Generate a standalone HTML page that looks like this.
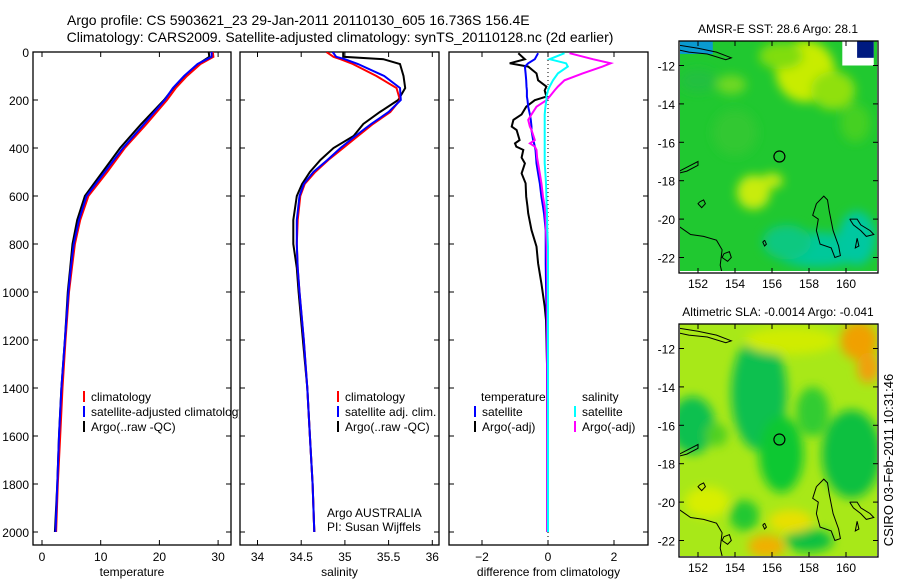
<!DOCTYPE html>
<html><head><meta charset="utf-8">
<style>
html,body{margin:0;padding:0;background:#fff;}
svg{display:block;font-family:"Liberation Sans",sans-serif;}
text{fill:#000;}
</style></head>
<body>
<svg id="fig" width="900" height="580" viewBox="0 0 900 580">
<defs>
<clipPath id="c1"><rect x="33" y="52" width="198" height="493"/></clipPath>
<clipPath id="c1leg"><rect x="33" y="52" width="206" height="493"/></clipPath>
<clipPath id="c2"><rect x="240" y="52" width="199" height="493"/></clipPath>
<clipPath id="c3"><rect x="449" y="52" width="199" height="493"/></clipPath>
<clipPath id="m1"><rect x="680" y="41" width="197" height="230"/></clipPath>
<clipPath id="m2"><rect x="680" y="324" width="197" height="232"/></clipPath>
<filter id="bl" x="-50%" y="-50%" width="200%" height="200%"><feGaussianBlur stdDeviation="5"/></filter>
</defs>
<text x="67" y="25" font-size="14">Argo profile: CS 5903621_23 29-Jan-2011 20110130_605 16.736S 156.4E</text>
<text x="340" y="42" font-size="14" text-anchor="middle">Climatology: CARS2009. Satellite-adjusted climatology: synTS_20110128.nc (2d earlier)</text>
<g id="plots"></g>
<g id="maps"></g>
<text transform="translate(893,460) rotate(-90)" font-size="13" text-anchor="middle">CSIRO 03-Feb-2011 10:31:46</text>
</svg>
<script>
// ---- data ----
const depths = [0,20,50,100,150,200,300,400,500,600,700,800,900,1000,1200,1400,1600,1800,2000];
const tempClim = [29.1,29.2,27.0,24.7,22.8,21.3,17.8,14.1,11.1,7.9,6.5,5.6,5.1,4.6,4.0,3.5,3.1,2.7,2.4];
const tempSat  = [28.9,28.9,26.5,24.2,22.3,20.9,17.4,13.8,10.7,7.6,6.3,5.4,4.9,4.5,3.9,3.3,2.9,2.6,2.3];
const tempArgo = [28.4,28.5,26.6,24.3,22.4,20.8,16.9,13.3,10.3,7.3,6.0,5.2,4.8,4.4,3.9,3.3,2.9,2.6,2.2];
const salDepths = [0,20,30,50,100,150,200,250,300,350,400,450,500,550,600,700,800,900,1000,1200,1400,1600,1800,2000];
const salClim = [34.79,34.87,34.95,35.09,35.36,35.59,35.63,35.52,35.32,35.15,34.98,34.81,34.66,34.54,34.49,34.46,34.45,34.46,34.48,34.53,34.57,34.60,34.63,34.65];
const salSat  = [34.86,34.90,35.00,35.15,35.45,35.63,35.64,35.50,35.30,35.12,34.95,34.80,34.64,34.53,34.48,34.45,34.45,34.46,34.48,34.53,34.57,34.60,34.63,34.65];
const salArgo = [34.98,34.98,35.44,35.63,35.67,35.69,35.61,35.40,35.21,35.10,34.87,34.72,34.60,34.51,34.45,34.41,34.41,34.45,34.47,34.52,34.57,34.60,34.63,34.65];
const diffDepths = [5,30,47,61,89,118,144,160,186,201,228,260,283,311,325,367,381,394,408,440,464,506,547,603,644,672,742,811,881,964,1061,1117,1300,1600,2000];
const dTempSat  = [-0.3,-0.4,-0.6,-0.7,-0.68,-0.66,-0.65,-0.64,-0.64,-0.62,-0.6,-0.55,-0.52,-0.5,-0.5,-0.45,-0.42,-0.4,-0.38,-0.36,-0.35,-0.3,-0.25,-0.2,-0.15,-0.12,-0.07,-0.07,-0.07,-0.06,-0.05,-0.04,-0.03,-0.02,-0.02];
const dTempArgo = [-0.9,-0.7,-1.16,-0.6,-0.35,-0.3,-0.05,-0.1,-0.05,-0.4,-0.66,-0.8,-1.05,-1.1,-0.95,-0.86,-1.0,-0.96,-0.75,-0.8,-0.7,-0.8,-0.68,-0.66,-0.62,-0.6,-0.5,-0.35,-0.3,-0.2,-0.1,-0.06,-0.03,-0.02,-0.02];
const dSalSat   = [0.5,0.05,0.55,0.6,0.3,0.15,0.05,0.0,-0.05,-0.05,-0.08,-0.1,-0.1,-0.1,-0.1,-0.1,-0.1,-0.1,-0.1,-0.1,-0.1,-0.08,-0.06,-0.05,-0.04,-0.03,-0.02,0.0,0.0,0.0,0.0,0.0,0.0,0.0,0.0];
const dSalArgo  = [0.65,1.36,1.9,1.65,1.05,0.5,0.3,0.2,0.05,-0.05,-0.35,-0.5,-0.6,-0.55,-0.5,-0.4,-0.55,-0.4,-0.35,-0.33,-0.3,-0.25,-0.2,-0.15,-0.1,-0.08,-0.06,-0.04,-0.03,-0.02,-0.02,-0.02,-0.02,-0.02,-0.02];
const depthTicks = [0,200,400,600,800,1000,1200,1400,1600,1800,2000];
const tempTicks = [0,10,20,30];
const salTicks = [34,34.5,35,35.5,36];
const diffTicks = [-2,0,2];
const latTicks = [-12,-14,-16,-18,-20,-22];
const lonTicks = [152,154,156,158,160];

const NS='http://www.w3.org/2000/svg';
function mk(tag, attrs, parent){const e=document.createElementNS(NS,tag);for(const k in attrs)e.setAttribute(k,attrs[k]);parent.appendChild(e);return e;}
const yD = d => 52 + d*0.24;
const xT = t => 42 + t*5.87;
const xS = s => 257.5 + (s-34)*87.4;
const xDf = v => 548 + v*33;
const plots=document.getElementById('plots');

function panel(name,x0,x1,xfn,ticks,fmt,xlabel,leftLabels,clip){
  const g=mk('g',{},plots);
  
  
  const fr=mk('rect',{x:x0,y:52,width:x1-x0,height:493,fill:'#fff',stroke:'#000','stroke-width':1.3},g);
  
  
  depthTicks.forEach(d=>{
    mk('line',{x1:x0,x2:x0+5,y1:yD(d),y2:yD(d),stroke:'#000'},g);
    mk('line',{x1:x1,x2:x1-5,y1:yD(d),y2:yD(d),stroke:'#000'},g);
    if(leftLabels){const t=mk('text',{x:x0-4,y:yD(d)+5,'font-size':12,'text-anchor':'end'},g);t.textContent=d;
      
      }
  });
  ticks.forEach(v=>{
    const x=xfn(v);
    mk('line',{x1:x,x2:x,y1:545,y2:540,stroke:'#000'},g);
    mk('line',{x1:x,x2:x,y1:52,y2:57,stroke:'#000'},g);
    const t=mk('text',{x:x,y:561,'font-size':12,'text-anchor':'middle'},g);t.textContent=fmt(v);
    
    
  });
  const xl=mk('text',{x:(x0+x1)/2,y:576,'font-size':12,'text-anchor':'middle'},g);xl.textContent=xlabel;
  
  
  return g;
}
function series(g,name,xs,ds,xfn,color,clip){
  const pts=xs.map((v,i)=>xfn(v).toFixed(1)+','+yD(ds[i]).toFixed(1)).join(' ');
  const p=mk('polyline',{points:pts,fill:'none',stroke:color,'stroke-width':2,'clip-path':'url(#'+clip+')'},g);
  
  
}
function legend(g,x,y,items,clip){
  const lg=mk('g',{'clip-path':clip?'url(#'+clip+')':''},g);
  
  
  items.forEach((it,i)=>{
    const yy=y+i*15;
    if(it[1]) mk('line',{x1:x,x2:x,y1:yy-6,y2:yy+5,stroke:it[1],'stroke-width':2},lg);
    const t=mk('text',{x:x+(it[2]||7),y:yy+4,'font-size':12},lg);t.textContent=it[0];
    
    
  });
}
// Panel 1 temperature
let g1=panel('temperature',33,231,xT,tempTicks,v=>v,'temperature',true);
series(g1,'temp-argo-line',tempArgo,depths,xT,'#000','c1');
series(g1,'temp-climatology-line',tempClim,depths,xT,'#f00','c1');
series(g1,'temp-satellite-line',tempSat,depths,xT,'#00f','c1');
legend(g1,84,397,[['climatology','#f00'],['satellite-adjusted climatology','#00f'],['Argo(..raw -QC)','#000']],'c1leg');
// Panel 2 salinity
let g2=panel('salinity',240,439,xS,salTicks,v=>v,'salinity',false);
series(g2,'sal-argo-line',salArgo,salDepths,xS,'#000','c2');
series(g2,'sal-climatology-line',salClim,salDepths,xS,'#f00','c2');
series(g2,'sal-satellite-line',salSat,salDepths,xS,'#00f','c2');
legend(g2,338,397,[['climatology','#f00'],['satellite adj. clim.','#00f'],['Argo(..raw -QC)','#000']]);
let n1=mk('text',{x:327,y:517,'font-size':12},g2);n1.textContent='Argo AUSTRALIA';


let n2=mk('text',{x:327,y:531,'font-size':12},g2);n2.textContent='PI: Susan Wijffels';


// Panel 3 differences
let g3=panel('difference',449,648,xDf,diffTicks,v=>v===0?'0':(v<0?'\u2212'+(-v):v),'difference from climatology',false);
mk('line',{x1:xDf(0),x2:xDf(0),y1:52,y2:545,stroke:'#000','stroke-dasharray':'1,3'},g3);
series(g3,'diff-temp-argo-line',dTempArgo,diffDepths,xDf,'#000','c3');
series(g3,'diff-temp-satellite-line',dTempSat,diffDepths,xDf,'#00f','c3');
series(g3,'diff-sal-argo-line',dSalArgo,diffDepths,xDf,'#f0f','c3');
series(g3,'diff-sal-satellite-line',dSalSat,diffDepths,xDf,'#0ff','c3');
legend(g3,475,397,[['temperature',null,6],['satellite','#00f'],['Argo(-adj)','#000']]);
legend(g3,575,397,[['salinity',null,7],['satellite','#0ff'],['Argo(-adj)','#f0f']]);

// ---- maps ----
const maps=document.getElementById('maps');
function map(name,top,bottom,title,clip,base,blobs){
  const g=mk('g',{},maps);
  
  
  const lat0=-12, y0=top+24.5, sy=19.2;
  const X = lon => 698 + (lon-152)*18.5;
  const Y = lat => y0 + (lat0-lat)*sy;
  const inner=mk('g',{'clip-path':'url(#'+clip+')'},g);
  mk('rect',{x:680,y:top,width:197,height:bottom-top,fill:base},inner);
  const bg=mk('g',{filter:'url(#bl)'},inner);
  blobs.forEach(b=>mk('ellipse',{cx:X(b[0]),cy:Y(b[1]),rx:b[2]*18.5,ry:b[3]*19.2,fill:b[4]},bg));
  return {g,inner,X,Y,top,bottom};
}
function decorate(m,title,extra){
  const {g,inner,X,Y,top,bottom}=m;
  extra&&extra(inner,X,Y);
  // coastlines
  const coasts=[
    [[151,-10.95],[152,-11.1],[153,-11.3],[153.8,-11.6],[153.5,-11.7],[152.5,-11.4],[151.5,-11.3],[151,-11.2]],
    [[151,-17.6],[151.4,-17.5],[152,-17.2],[152,-17.0],[151.6,-17.2],[151,-17.5]],
    [[152.1,-19.1],[152.3,-19.0],[152.4,-19.2],[152.2,-19.4],[152.0,-19.2],[152.1,-19.1]],
    [[151,-20.4],[151.6,-20.8],[152.3,-20.9],[153,-21.1],[153.3,-21.6],[153.2,-22.4],[153.3,-22.8]],
    [[153.4,-21.8],[153.7,-21.7],[153.8,-22.0],[153.6,-22.2],[153.3,-22.0],[153.4,-21.8]],
    [[158.4,-19.2],[158.8,-18.8],[159.0,-19.0],[159.1,-19.6],[159.3,-20.6],[159.6,-21.4],[159.7,-21.9],[159.4,-22.0],[159.2,-21.5],[158.6,-21.3],[158.4,-20.6],[158.5,-20.0],[158.2,-19.8],[158.4,-19.2]],
    [[160.2,-20.0],[160.6,-20.0],[160.8,-20.3],[161.3,-20.6],[161.5,-20.8],[161.1,-20.9],[160.8,-20.6],[160.4,-20.3],[160.2,-20.0]],
    [[160.6,-21.0],[160.7,-21.4],[160.5,-21.5],[160.6,-21.0]],
    [[155.6,-21.1],[155.7,-21.3],[155.6,-21.4],[155.5,-21.2],[155.6,-21.1]]
  ];
  coasts.forEach(c=>{
    const p=mk('polyline',{points:c.map(q=>X(q[0]).toFixed(1)+','+Y(q[1]).toFixed(1)).join(' '),fill:'none',stroke:'#000','stroke-width':1},inner);
    
    
  });
  const ci=mk('circle',{cx:X(156.4),cy:Y(-16.74),r:5.5,fill:'none',stroke:'#000','stroke-width':1.2},inner);
  
  
  const fr=mk('rect',{x:679,y:top,width:199,height:bottom-top,fill:'none',stroke:'#000','stroke-width':1.3},g);
  
  
  latTicks.forEach(l=>{
    mk('line',{x1:679,x2:684,y1:Y(l),y2:Y(l),stroke:'#000'},g);
    mk('line',{x1:878,x2:873,y1:Y(l),y2:Y(l),stroke:'#000'},g);
    const t=mk('text',{x:675,y:Y(l)+5,'font-size':12,'text-anchor':'end'},g);t.textContent=String(l);
    
    
  });
  lonTicks.forEach(l=>{
    mk('line',{x1:X(l),x2:X(l),y1:bottom,y2:bottom-5,stroke:'#000'},g);
    mk('line',{x1:X(l),x2:X(l),y1:top,y2:top+5,stroke:'#000'},g);
    const t=mk('text',{x:X(l),y:bottom+15,'font-size':12,'text-anchor':'middle'},g);t.textContent=l;
    
    
  });
  const tt=mk('text',{x:778,y:top-8,'font-size':12,'text-anchor':'middle'},g);tt.textContent=title;
  
  
}
const sst=map('sst-map',41,273,'','m1','#20c830',[
  [157.8,-12.3,1.6,1.6,'#c8ec00'],[159.3,-13.3,1.2,1.0,'#90e010'],[156.5,-11.5,1.2,0.7,'#80dd10'],
  [155.0,-18.6,0.9,0.9,'#c8ec10'],[156.0,-18.0,0.6,0.4,'#c0ea10'],[153.8,-13.0,0.8,0.5,'#70d820'],
  [158.5,-21.6,2.5,0.9,'#00c89a'],[156.8,-21.2,1.3,0.9,'#10c880'],[160.6,-21.0,1.0,1.4,'#00c8a0'],
  [152,-12.8,1.0,0.6,'#20c040'],[154,-15.5,1.2,1.2,'#30c830'],[160.5,-15,0.8,1.0,'#44d020']]);
decorate(sst,'AMSR-E SST: 28.6 Argo: 28.1',(inner,X,Y)=>{
  mk('rect',{x:X(159.8),y:Y(-10.7),width:X(161.5)-X(159.8),height:Y(-12.0)-Y(-10.7),fill:'#fff'},inner);
  mk('rect',{x:X(160.6),y:Y(-10.7),width:X(161.5)-X(160.6),height:Y(-11.6)-Y(-10.7),fill:'#001a80'},inner);
  mk('rect',{x:X(151),y:Y(-10.7),width:X(152.8)-X(151),height:Y(-11.4)-Y(-10.7),fill:'#0a9ad0'},inner);
});
const sla=map('sla-map',324,557,'','m2','#a8e818',[
  [155.3,-14.3,1.5,3.0,'#10c050'],[156.5,-17.5,1.2,2.0,'#10c830'],[151.7,-16,1.2,1.5,'#10c050'],
  [160.3,-17.5,1.6,2.3,'#10c040'],[158.2,-15.3,0.9,1.3,'#30cc30'],[154.5,-20.7,0.8,0.8,'#20c830'],
  [158,-22,1.3,0.6,'#10c040'],[153,-16.5,0.6,0.6,'#50d020'],
  [160.7,-11.6,1.0,1.0,'#f0a000'],[161.2,-13,0.6,0.8,'#f0a010'],[155.7,-22.3,1.0,0.6,'#f0b000'],
  [157,-21,1.2,0.6,'#e8e000'],[152.5,-20,1.2,0.8,'#d8ee00'],[157,-11.6,2.5,0.7,'#d0ec00']]);
decorate(sla,'Altimetric SLA: -0.0014 Argo: -0.041');
</script>
</body></html>
